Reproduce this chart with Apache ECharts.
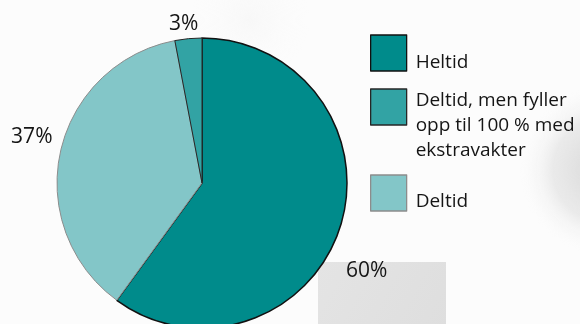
<!DOCTYPE html>
<html>
<head>
<meta charset="utf-8">
<script src="https://cdn.jsdelivr.net/npm/echarts@6/dist/echarts.min.js"></script>
<style>
  html, body { margin: 0; padding: 0; background: #fcfcfc; }
  #chart { width: 580px; height: 324px; }
</style>
</head>
<body>
<div id="chart"></div>
<script>
// Andel stillinger etter type
const categories = ['Heltid', 'Deltid', 'Deltid, men fyller opp til 100 % med ekstravakter'];
const shares = [60, 37, 3];
const sliceColors = ['#008b8b', '#83c6c8', '#32a3a4'];
const sliceBorders = ['#111111', '#8c8c8c', '#262626'];
const legendLines = [
  ['Heltid'],
  ['Deltid, men fyller', 'opp til 100 % med', 'ekstravakter'],
  ['Deltid']
];
// legend order: Heltid, Deltid men fyller..., Deltid
const legendOrder = [0, 2, 1];

const FONT = '"Open Sans", "Noto Sans", sans-serif';
const TEXT = '#151515';

// label nudges (dx, dy) per slice, relative to the default outside anchor
const labelNudge = [[6, 43], [-8, -14], [10, -15]];

const chart = echarts.init(document.getElementById('chart'), null, { renderer: 'canvas' });

const ICON = 36;
const LINE_H = 25;
const iconTops = [35, 89, 175];
// height of a blank spacer line above each legend text, pushing the words below the icon's middle
const spacerH = [19, 37, 17];

const legends = legendOrder.map((ci, k) => {
  const boxH = legendLines[k].length * LINE_H + spacerH[k];
  const overflow = Math.max(0, boxH / 2 - ICON / 2);
  return {
    left: 370,
    top: iconTops[k] - overflow,
    orient: 'vertical',
    padding: 0,
    itemWidth: ICON,
    itemHeight: ICON,
    icon: 'rect',
    selectedMode: false,
    data: [{
      name: categories[ci],
      itemStyle: { color: sliceColors[ci], borderColor: sliceBorders[ci], borderWidth: 1.3 }
    }],
    formatter: () => '{s| }\n' + legendLines[k].map(l => '{t|' + l + '}').join('\n'),
    textStyle: {
      fontFamily: FONT,
      fontSize: 19,
      lineHeight: LINE_H,
      color: TEXT,
      rich: {
        s: { fontSize: 1, lineHeight: spacerH[k], height: spacerH[k] },
        t: { fontFamily: FONT, fontSize: 19, lineHeight: LINE_H, color: TEXT, padding: [0, 0, 0, 4] }
      }
    }
  };
});

chart.setOption({
  animation: false,
  backgroundColor: 'transparent',
  graphic: [
    {
      type: 'rect', z: -10, silent: true,
      shape: { x: 318, y: 262, width: 128, height: 70 },
      style: {
        fill: new echarts.graphic.LinearGradient(0, 0, 1, 1, [
          { offset: 0, color: '#e4e4e4' },
          { offset: 1, color: '#dedede' }
        ])
      }
    },
    {
      type: 'circle', z: -10, silent: true,
      shape: { cx: 605, cy: 170, r: 85 },
      style: {
        fill: new echarts.graphic.RadialGradient(0.5, 0.5, 0.5, [
          { offset: 0, color: 'rgba(200,200,200,0.75)' },
          { offset: 0.6, color: 'rgba(215,215,215,0.5)' },
          { offset: 1, color: 'rgba(250,250,250,0)' }
        ])
      }
    },
    {
      type: 'circle', z: -10, silent: true,
      shape: { cx: 250, cy: 20, r: 60 },
      style: {
        fill: new echarts.graphic.RadialGradient(0.5, 0.5, 0.5, [
          { offset: 0, color: 'rgba(235,235,235,0.22)' },
          { offset: 1, color: 'rgba(250,250,250,0)' }
        ])
      }
    }
  ],
  legend: legends,
  series: [{
    type: 'pie',
    center: [202, 183],
    radius: 145,
    startAngle: 90,
    clockwise: true,
    avoidLabelOverlap: false,
    emphasis: { disabled: true },
    label: {
      show: true,
      position: 'outside',
      formatter: '{c}%',
      fontFamily: FONT,
      fontSize: 21,
      color: TEXT,
      distanceToLabelLine: 0
    },
    labelLine: { show: false, length: 0, length2: 0 },
    labelLayout: (p) => ({ dx: labelNudge[p.dataIndex][0], dy: labelNudge[p.dataIndex][1] }),
    data: categories.map((name, i) => ({
      name: name,
      value: shares[i],
      itemStyle: {
        color: sliceColors[i],
        borderColor: sliceBorders[i],
        borderWidth: i === 0 ? 1.5 : 1
      }
    }))
  }]
});
</script>
</body>
</html>
